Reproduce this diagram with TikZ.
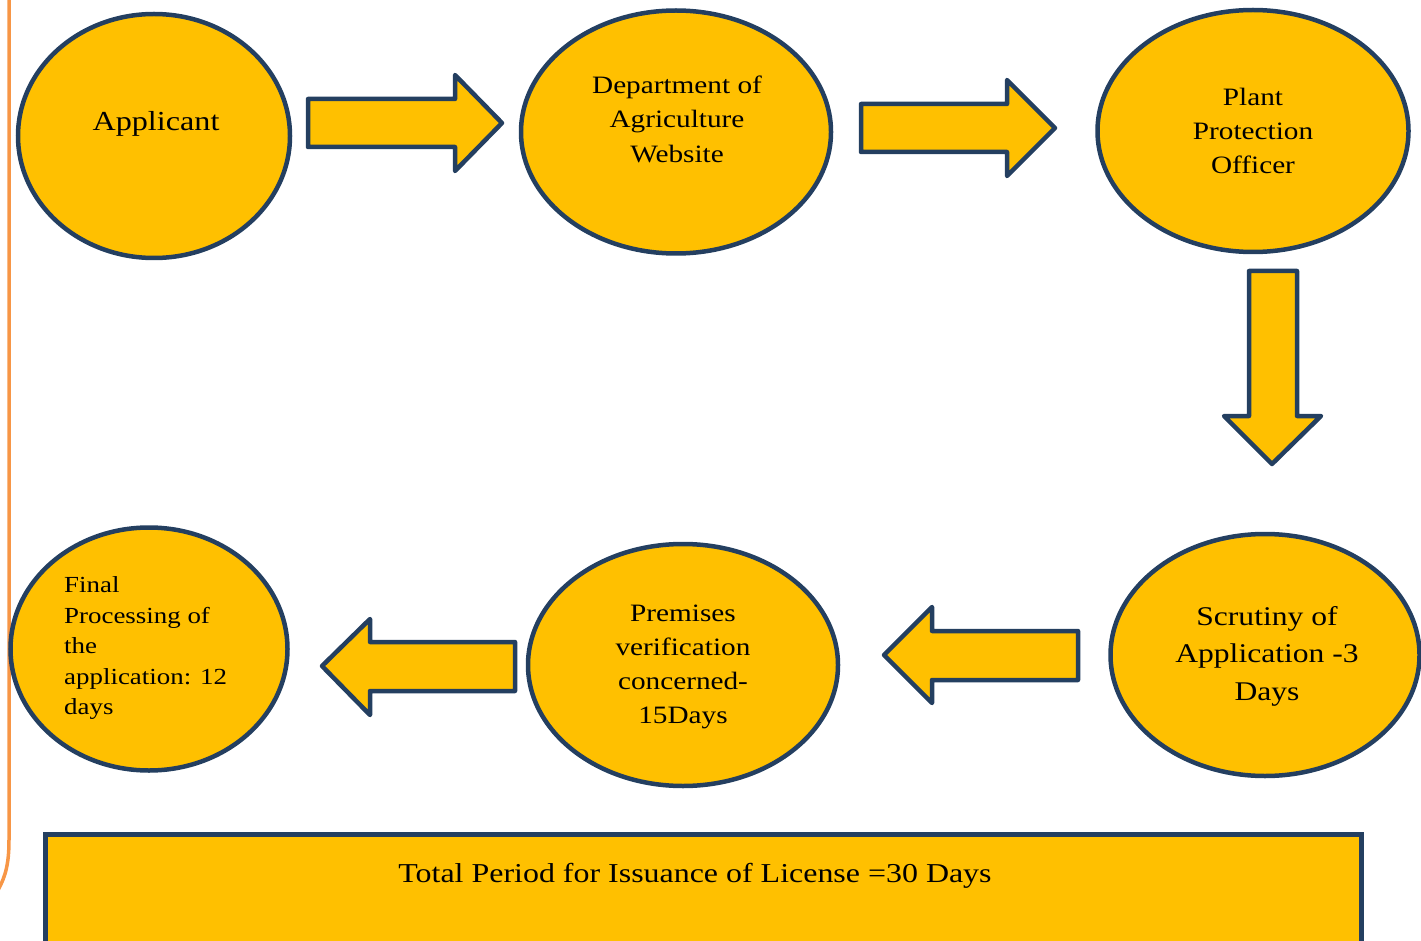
\documentclass[tikz,border=0pt]{standalone}
\usepackage{fontspec}
\setmainfont[FakeStretch=1.17]{Liberation Serif}
\usetikzlibrary{shapes.geometric}
\definecolor{fillY}{HTML}{FFC000}
\definecolor{edgeB}{HTML}{243F60}
\definecolor{orangeL}{HTML}{F79646}
\tikzset{
  ell/.style={ellipse, draw=edgeB, fill=fillY, line width=4.5pt, inner sep=0pt},
  blockarrow/.style={draw=edgeB, fill=fillY, line width=4.5pt, line join=round},
  txt/.style={align=center, text=black, inner sep=0pt},
}
\newcommand{\fsz}[2]{\fontsize{#1}{#2}\selectfont}
\begin{document}
\begin{tikzpicture}[x=1pt,y=-1pt]
\useasboundingbox (0,0) rectangle (1421,941);
% orange side line
\draw[orangeL, line width=3.5pt] (9,-5) -- (9,840) .. controls (9,862) and (6,876) .. (-2,890);
% ellipses
\node[ell, minimum width=272pt, minimum height=244pt] (app) at (154,136) {};
\node[ell, minimum width=310pt, minimum height=243pt] (dep) at (676,132) {};
\node[ell, minimum width=311pt, minimum height=242pt] (ppo) at (1253,131) {};
\node[ell, minimum width=309pt, minimum height=242pt] (scr) at (1265,655) {};
\node[ell, minimum width=310pt, minimum height=242pt] (pre) at (683,665) {};
\node[ell, minimum width=277pt, minimum height=243pt] (fin) at (149,649) {};
% texts
\node[txt, font=\fsz{27.5}{34}] (tapp) at (156,124) {Applicant};
\node[txt, font=\fsz{25}{34.5}] (tdep) at (677,119) {Department of\\Agriculture\\Website};
\node[txt, font=\fsz{25}{34}] (tppo) at (1253,131) {Plant\\Protection\\Officer};
\node[txt, font=\fsz{27}{37.5}] (tscr) at (1267,656) {Scrutiny of\\Application -3\\Days};
\node[txt, font=\fsz{25}{34}] (tpre) at (683,667) {Premises\\verification\\concerned-\\15Days};
\node[txt, align=left, anchor=west, font=\fsz{23}{30.5}] (tfin) at (64,648) {Final\\Processing of\\the\\application: 12\\days};
% block arrows
\draw[blockarrow] (308,99) -- (455,99) -- (455,75) -- (502,123) -- (455,171) -- (455,147) -- (308,147) -- cycle;
\draw[blockarrow] (861,104) -- (1007,104) -- (1007,80) -- (1055,128) -- (1007,176) -- (1007,152) -- (861,152) -- cycle;
\draw[blockarrow] (1249,271) -- (1297,271) -- (1297,416) -- (1321,416) -- (1272,464) -- (1224,416) -- (1249,416) -- cycle;
\draw[blockarrow] (1078,631) -- (932,631) -- (932,607) -- (884,655) -- (932,703) -- (932,680) -- (1078,680) -- cycle;
\draw[blockarrow] (515,642) -- (370,642) -- (370,619) -- (322,666) -- (370,715) -- (370,691) -- (515,691) -- cycle;
% bottom box
\node[draw=edgeB, fill=fillY, line width=4.5pt, minimum width=1316pt, minimum height=130pt, anchor=north west, inner sep=0pt] (tot) at (43,832) {};
\node[txt, font=\fsz{27.3}{32}] (ttot) at (695,876) {Total Period for Issuance of License =30 Days};
\end{tikzpicture}
\end{document}
